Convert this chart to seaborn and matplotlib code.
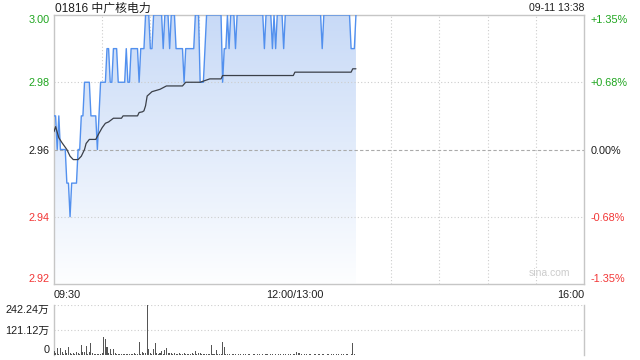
import numpy as np
import pandas as pd
import matplotlib
matplotlib.use("Agg")
import matplotlib.pyplot as plt
import seaborn as sns
from matplotlib.colors import LinearSegmentedColormap

# ---------------- data ----------------
title_text = "01816 中广核电力"
stamp_text = "09-11 13:38"
prev_close = 2.96
price_ticks = [2.92, 2.94, 2.96, 2.98, 3.00]
price_tick_labels = ["2.92", "2.94", "2.96", "2.98", "3.00"]
pct_tick_labels = ["-1.35%", "-0.68%", "0.00%", "+0.68%", "+1.35%"]
time_ticks = [0, 150, 330]
time_labels = ["09:30", "12:00/13:00", "16:00"]
vol_ticks = [0, 121.12, 242.24]
vol_labels = ["0", "121.12万", "242.24万"]

price = [
    2.97, 2.97, 2.96, 2.97, 2.96, 2.96, 2.96, 2.96, 2.95, 2.95,
    2.94, 2.95, 2.95, 2.95, 2.95, 2.96, 2.96, 2.97, 2.97, 2.98,
    2.98, 2.98, 2.98, 2.97, 2.97, 2.97, 2.97, 2.96, 2.97, 2.98,
    2.98, 2.98, 2.98, 2.99, 2.99, 2.98, 2.98, 2.99, 2.99, 2.99,
    2.98, 2.98, 2.98, 2.98, 2.98, 2.99, 2.98, 2.98, 2.99, 2.99,
    2.99, 2.99, 2.99, 2.98, 2.99, 2.99, 2.99, 3.00, 3.00, 3.00,
    2.99, 2.99, 3.00, 3.00, 3.00, 3.00, 3.00, 3.00, 2.99, 3.00,
    3.00, 3.00, 2.99, 3.00, 3.00, 3.00, 2.99, 2.99, 2.99, 2.99,
    2.99, 2.98, 2.99, 2.99, 2.99, 2.99, 2.99, 2.99, 3.00, 3.00,
    3.00, 2.98, 2.98, 2.98, 2.99, 3.00, 3.00, 3.00, 3.00, 3.00,
    3.00, 3.00, 3.00, 3.00, 3.00, 2.98, 2.99, 2.99, 3.00, 2.99,
    3.00, 3.00, 3.00, 2.99, 3.00, 3.00, 3.00, 3.00, 3.00, 3.00,
    3.00, 3.00, 3.00, 3.00, 3.00, 3.00, 3.00, 3.00, 3.00, 3.00,
    3.00, 2.99, 3.00, 3.00, 3.00, 3.00, 2.99, 3.00, 2.99, 3.00,
    3.00, 3.00, 3.00, 2.99, 3.00, 3.00, 3.00, 3.00, 3.00, 3.00,
    3.00, 3.00, 3.00, 3.00, 3.00, 3.00, 3.00, 3.00, 3.00, 3.00,
    3.00, 3.00, 3.00, 3.00, 3.00, 3.00, 3.00, 2.99, 3.00, 3.00,
    3.00, 3.00, 3.00, 3.00, 3.00, 3.00, 3.00, 3.00, 3.00, 3.00,
    3.00, 3.00, 3.00, 3.00, 3.00, 2.99, 2.99, 2.99, 3.00,
]

avg_minute = [0, 1, 3, 5, 8, 10, 12, 15, 17, 19, 20, 22, 26, 28, 30, 32, 34, 37,
              42, 43, 52, 53, 55, 56, 57, 58, 61, 66, 70, 80, 82, 91, 97, 104,
              105, 149, 150, 185, 186, 188]
avg_price = [2.9653, 2.9668, 2.9635, 2.9620, 2.9600, 2.9580, 2.9570, 2.9570,
             2.9580, 2.9600, 2.9618, 2.9630, 2.9630, 2.9648, 2.9665, 2.9678,
             2.9682, 2.9693, 2.9693, 2.9700, 2.9700, 2.9710, 2.9712, 2.9715,
             2.9730, 2.9759, 2.9772, 2.9779, 2.9789, 2.9789, 2.9800, 2.9800,
             2.9810, 2.9810, 2.9820, 2.9820, 2.9830, 2.9830, 2.9840, 2.9840]

volume = [
    21, 8, 32, 6, 32, 16, 5, 24, 10, 37,
    11, 6, 8, 5, 16, 8, 4, 48, 13, 16,
    44, 5, 16, 60, 8, 4, 3, 3, 5, 3,
    8, 89, 78, 40, 10, 29, 6, 29, 11, 5,
    4, 3, 5, 4, 3, 5, 4, 3, 6, 4,
    8, 3, 5, 65, 6, 16, 8, 10, 242.24, 29,
    8, 5, 29, 60, 8, 5, 10, 21, 6, 24,
    35, 10, 8, 10, 5, 8, 4, 6, 8, 4,
    5, 8, 4, 6, 5, 4, 10, 6, 19, 5,
    8, 11, 4, 3, 4, 3, 4, 3, 48, 4,
    3, 24, 4, 3, 6, 65, 37, 4, 3, 3,
    2, 3, 4, 3, 2, 3, 3, 2, 4, 3,
    2, 3, 3, 2, 3, 4, 2, 3, 3, 2,
    3, 2, 3, 4, 2, 3, 3, 2, 3, 2,
    3, 3, 2, 4, 3, 2, 3, 3, 2, 3,
    4, 13, 8, 10, 3, 2, 3, 3, 2, 3,
    4, 2, 3, 3, 2, 3, 2, 3, 4, 2,
    3, 3, 2, 6, 3, 2, 3, 3, 2, 4,
    3, 2, 3, 3, 2, 3, 60, 3, 2,
]

# ---------------- style ----------------
sns.set_style("white")
plt.rcParams["font.family"] = ["Liberation Sans", "Noto Sans CJK SC"]

GREEN = "#1ea51e"
RED = "#f23535"
BLACK = "#1e1e1e"
SPINE = "#c6c6c6"
GRID = "#cdcdcd"
LINE_BLUE = "#5290ee"
AVG = "#3b4049"

minutes = np.arange(len(price))
df = pd.DataFrame({"minute": minutes, "price": price, "volume": volume})
avg_df = pd.DataFrame({"minute": avg_minute, "avg": avg_price})

W, H = 640, 360
fig = plt.figure(figsize=(6.4, 3.6), dpi=100)
ax = fig.add_axes([54 / W, 1 - 284 / H, 530 / W, 269 / H])
axv = fig.add_axes([54 / W, 1 - 355 / H, 530 / W, 50 / H])

# ---------------- price panel ----------------
ymin, ymax = price_ticks[0], price_ticks[-1]
poly = ax.fill_between(df["minute"], df["price"], ymin, facecolor="none", edgecolor="none")
cmap = LinearSegmentedColormap.from_list("fillgrad", ["#fdfeff", "#c8daf7"])
grad = np.linspace(0, 1, 256).reshape(-1, 1)
im = ax.imshow(grad, extent=[0, minutes[-1], ymin, ymax], origin="lower",
               aspect="auto", cmap=cmap, zorder=1)
im.set_clip_path(poly.get_paths()[0], transform=ax.transData)

sns.lineplot(data=df, x="minute", y="price", ax=ax, color=LINE_BLUE,
             linewidth=1.0, zorder=4, legend=False)
sns.lineplot(data=avg_df, x="minute", y="avg", ax=ax, color=AVG,
             linewidth=0.9, zorder=5, legend=False)

ax.set_xlim(time_ticks[0], time_ticks[-1])
ax.set_ylim(ymin, ymax)

# grid lines
ax.set_xticks(np.arange(30, 330, 30), minor=True)
ax.grid(which="minor", axis="x", color=GRID, linestyle=(0, (1, 2)), linewidth=0.8, zorder=2)
for yv in price_ticks[1:-1]:
    if abs(yv - prev_close) < 1e-9:
        ax.axhline(yv, color="#aaaaaa", linestyle=(0, (3, 2)), linewidth=0.8, zorder=2)
    else:
        ax.axhline(yv, color=GRID, linestyle=(0, (1, 2)), linewidth=0.8, zorder=2)

for s in ax.spines.values():
    s.set_color(SPINE)
    s.set_linewidth(1.0)

ax.set_xlabel("")
ax.set_ylabel("")
ax.set_xticks(time_ticks)
ax.set_xticklabels(time_labels)
ax.tick_params(axis="x", which="both", length=0, pad=4, labelsize=7.8, colors=BLACK)
xl = ax.get_xticklabels()
xl[0].set_ha("left")
xl[-1].set_ha("right")

ax.set_yticks(price_ticks)
ax.set_yticklabels(price_tick_labels)
ax.tick_params(axis="y", length=0, pad=3, labelsize=7.8)
price_colors = [RED, RED, BLACK, GREEN, GREEN]
for lab, c in zip(ax.get_yticklabels(), price_colors):
    lab.set_color(c)
yl = ax.get_yticklabels()
yl[0].set_va("bottom")
yl[-1].set_va("top")

ax2 = ax.twinx()
ax2.set_ylim(ymin, ymax)
ax2.set_yticks(price_ticks)
ax2.set_yticklabels(pct_tick_labels)
ax2.tick_params(axis="y", length=0, pad=5, labelsize=7.8)
for lab, c in zip(ax2.get_yticklabels(), price_colors):
    lab.set_color(c)
yl2 = ax2.get_yticklabels()
yl2[0].set_va("bottom")
yl2[-1].set_va("top")
for s in ax2.spines.values():
    s.set_visible(False)
ax2.grid(False)

fig.text(55 / W, 1 - 8.5 / H, title_text, ha="left", va="center",
         fontsize=8.6, color=BLACK)
fig.text(584 / W, 1 - 8 / H, stamp_text, ha="right", va="center",
         fontsize=7.6, color=BLACK)
ax.text(0.935, 0.022, "sina.com", transform=ax.transAxes, ha="center", va="bottom",
        fontsize=7.5, color="#cccccc")

# ---------------- volume panel ----------------
axv.bar(df["minute"], df["volume"], width=0.65, color="#555555", linewidth=0, zorder=3)
axv.set_xlim(time_ticks[0], time_ticks[-1])
axv.set_ylim(vol_ticks[0], vol_ticks[-1])
for yv in vol_ticks[1:]:
    axv.axhline(yv, color=GRID, linestyle=(0, (1, 2)), linewidth=0.8, zorder=1)
axv.spines["top"].set_visible(False)
axv.spines["bottom"].set_visible(False)
for side in ("left", "right"):
    axv.spines[side].set_color(SPINE)
    axv.spines[side].set_linewidth(1.0)
axv.set_xticks([])
axv.set_xlabel("")
axv.set_ylabel("")
axv.set_yticks(vol_ticks)
axv.set_yticklabels(vol_labels)
axv.tick_params(axis="y", length=0, pad=3, labelsize=7.8, colors=BLACK)
vl = axv.get_yticklabels()
vl[0].set_va("bottom")
vl[-1].set_va("top")
axv.grid(False)

fig.savefig("out.png", dpi=100)
